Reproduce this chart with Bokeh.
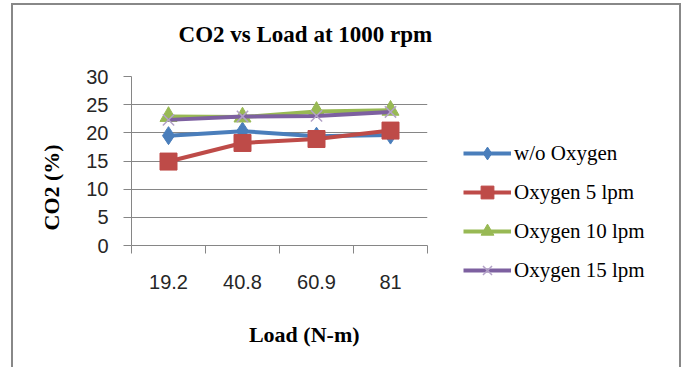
from bokeh.plotting import figure
from bokeh.models import Range1d, FixedTicker, Legend, LegendItem, Title, LinearAxis
from bokeh.embed import file_html
from bokeh.resources import INLINE

categories = ["19.2", "40.8", "60.9", "81"]
wo_oxygen = [19.5, 20.3, 19.4, 19.6]
oxygen_5 = [14.9, 18.2, 18.9, 20.4]
oxygen_10 = [22.9, 22.8, 23.8, 24.0]
oxygen_15 = [22.3, 22.9, 23.0, 23.7]
y_ticks = [0, 5, 10, 15, 20, 25, 30]
title_text = "CO2 vs Load at 1000 rpm"
x_title = "Load (N-m)"
y_title = "CO2 (%)"

series = [
    ("w/o Oxygen", wo_oxygen, "#4a7ebb", "diamond", 18, "#4a7ebb"),
    ("Oxygen 5 lpm", oxygen_5, "#be4b48", "square", 17, "#be4b48"),
    ("Oxygen 10 lpm", oxygen_10, "#98b954", "triangle", 17, "#98b954"),
    ("Oxygen 15 lpm", oxygen_15, "#7d60a0", "x", 16, "#b3a2c7"),
]

W, H = 685, 367
L, T, FW, FH = 131, 76, 296, 169
PAD = "\u00a0" * 9   # shifts centred titles to the right, as in the reference

p = figure(width=W, height=H, output_backend="svg", toolbar_location=None,
           x_range=Range1d(0, 4), y_range=Range1d(0, 30),
           min_border_left=L, min_border_top=T,
           min_border_right=W - L - FW, min_border_bottom=H - T - FH,
           frame_width=FW, frame_height=FH)
p.outline_line_color = None
p.background_fill_color = "white"
p.border_fill_color = None
# outer chart border drawn with CSS on the figure element
p.styles = {
    "background-color": "white",
    "background-image": "linear-gradient(#888888,#888888), linear-gradient(#888888,#888888), linear-gradient(#888888,#888888)",
    "background-size": "670px 2px, 2px 364px, 2px 364px",
    "background-position": "11px 3px, 11px 3px, 679px 3px",
    "background-repeat": "no-repeat",
}

xs = [i + 0.5 for i in range(len(categories))]

items = []
for name, vals, col, marker, size, mcol in series:
    r1 = p.line(xs, vals, line_color=col, line_width=4)
    if marker == "x":
        r2 = p.scatter(xs, vals, marker="x", size=size, line_color=mcol, line_width=1.5)
    else:
        r2 = p.scatter(xs, vals, marker=marker, size=size, fill_color=col, line_color=col)
    items.append(LegendItem(label=name, renderers=[r1, r2]))

serif_bold = dict(text_font="Liberation Serif", text_font_size="22px",
                  text_font_style="bold", text_color="black")

# bottom x axis
xaxis = p.below[0]
xaxis.ticker = FixedTicker(ticks=xs, minor_ticks=[0, 1, 2, 3, 4])
xaxis.major_label_overrides = {x: c for x, c in zip(xs, categories)}
xaxis.major_tick_out = 0
xaxis.major_tick_in = 0
xaxis.minor_tick_out = 8
xaxis.minor_tick_in = 0
xaxis.minor_tick_line_color = "#868686"
xaxis.axis_line_color = "#868686"
xaxis.major_label_standoff = 21
xaxis.axis_label = PAD + x_title
xaxis.axis_label_standoff = 30
xaxis.axis_label_text_font = "Liberation Serif"
xaxis.axis_label_text_font_size = "22px"
xaxis.axis_label_text_font_style = "bold"
xaxis.axis_label_text_color = "black"

# y axis
yaxis = p.left[0]
yaxis.ticker = FixedTicker(ticks=y_ticks)
yaxis.major_tick_out = 8
yaxis.major_tick_in = 0
yaxis.minor_tick_line_color = None
yaxis.major_tick_line_color = "#868686"
yaxis.axis_line_color = "#868686"
yaxis.major_label_standoff = 15

for ax in (xaxis, yaxis):
    ax.major_label_text_font = "Liberation Sans"
    ax.major_label_text_font_size = "20px"
    ax.major_label_text_color = "#262626"

p.add_layout(Title(text=y_title, align="left", offset=15, standoff=40, **serif_bold), "left")

# chart title: label of a bare axis above the frame
top_axis = LinearAxis(ticker=FixedTicker(ticks=[]), axis_line_color=None,
                      major_tick_line_color=None, minor_tick_line_color=None,
                      major_tick_out=0, minor_tick_out=0, major_label_standoff=0,
                      axis_label=PAD + title_text, axis_label_standoff=30,
                      axis_label_text_font="Liberation Serif",
                      axis_label_text_font_size="23px",
                      axis_label_text_font_style="bold",
                      axis_label_text_color="black")
p.add_layout(top_axis, "above")

p.xgrid.grid_line_color = None
p.ygrid.grid_line_color = "#868686"
p.ygrid.ticker = FixedTicker(ticks=y_ticks)

legend = Legend(items=items, location=(36, -41), orientation="vertical",
                label_text_font="Liberation Serif", label_text_font_size="21px",
                label_text_color="black", label_height=32,
                glyph_width=48, glyph_height=32, label_standoff=3, spacing=7,
                border_line_color=None, background_fill_alpha=0, padding=0, margin=0)
p.add_layout(legend, "right")

open("out.html", "w").write(file_html(p, INLINE))
